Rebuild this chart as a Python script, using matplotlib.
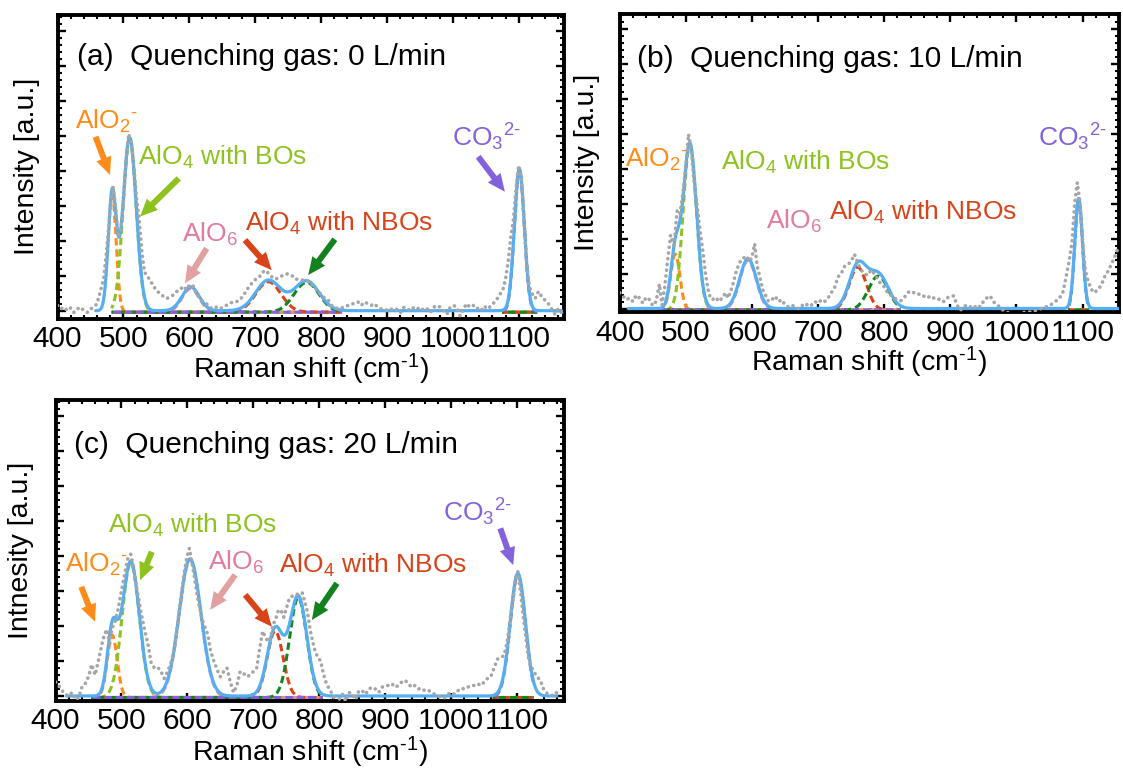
import numpy as np
import matplotlib
matplotlib.use("Agg")
import matplotlib.pyplot as plt
from matplotlib.ticker import MultipleLocator
from matplotlib.transforms import offset_copy

plt.rcParams["font.family"] = ["Liberation Sans", "DejaVu Sans"]
plt.rcParams["mathtext.fontset"] = "custom"
plt.rcParams["mathtext.rm"] = "Liberation Sans"
plt.rcParams["mathtext.it"] = "Liberation Sans:italic"
plt.rcParams["mathtext.bf"] = "Liberation Sans:bold"
plt.rcParams["mathtext.default"] = "regular"

# ------------------------------------------------------------------ data
HY = "\u2010"  # typographic hyphen used in the charge labels
band_names = ["AlO2-", "AlO4 (BOs)", "AlO6", "AlO4 (NBOs) I", "AlO4 (NBOs) II", "CO3 2-"]
band_colors = ["#FF8C1A", "#8DC21F", "#E48AA6", "#D8431A", "#13861F", "#8462DC"]

titles = ["(a)  Quenching gas: 0 L/min",
          "(b)  Quenching gas: 10 L/min",
          "(c)  Quenching gas: 20 L/min"]
ylabels = ["Intensity [a.u.]", "Intensity [a.u.]", "Intnesity [a.u.]"]
xlabel = "Raman shift (cm$^{" + HY + "1}$)"
xticks = [400, 500, 600, 700, 800, 900, 1000, 1100]

lbl_alo2 = "AlO$_2$$^{" + HY + "}$"
lbl_bos = "AlO$_4$ with BOs"
lbl_alo6 = "AlO$_6$"
lbl_nbos = "AlO$_4$ with NBOs"
lbl_co3 = "CO$_3$$^{2" + HY + "}$"

# measured spectra (Raman shift, intensity)
raw_x_a = [400, 405, 410, 415, 420, 425, 430, 435, 440, 445, 450, 455, 460, 465, 470,
           475, 480, 484, 488, 492, 496, 500, 504, 508, 512, 516, 520, 524, 528, 532,
           536, 541, 546, 551, 556, 561, 566, 571, 576, 581, 586, 591, 596, 601, 606,
           611, 616, 621, 626, 631, 636, 641, 646, 651, 656, 661, 666, 671, 676, 681,
           686, 691, 696, 701, 706, 711, 716, 721, 726, 731, 736, 741, 746, 751, 756,
           761, 766, 771, 776, 781, 786, 791, 796, 801, 806, 811, 816, 821, 826, 831,
           836, 841, 846, 851, 856, 861, 866, 871, 876, 881, 886, 891, 896, 901, 906,
           911, 916, 921, 926, 931, 936, 941, 946, 951, 956, 961, 966, 971, 976, 981,
           986, 991, 996, 1001, 1006, 1011, 1016, 1021, 1026, 1031, 1036, 1041, 1046,
           1051, 1056, 1061, 1066, 1071, 1076, 1080, 1084, 1088, 1092, 1096, 1100,
           1104, 1108, 1112, 1116, 1120, 1125, 1130, 1135, 1140, 1145, 1150, 1155,
           1160, 1165]
raw_y_a = [0.15, 0.05, 0.10, 0.00, 0.08, -0.05, 0.05, 0.10, 0.00, -0.05, 0.05, 0.10, 0.20, 0.55, 0.90,
           1.80, 2.90, 3.55, 3.00, 2.10, 2.30, 3.10, 4.30, 5.05, 4.80, 4.10, 3.20, 2.60, 1.70, 1.10,
           1.00, 0.85, 0.70, 0.55, 0.50, 0.40, 0.35, 0.40, 0.45, 0.55, 0.60, 0.70, 0.60, 0.75, 0.70,
           0.50, 0.35, 0.25, 0.20, 0.10, 0.05, 0.10, 0.05, 0.10, 0.15, 0.20, 0.25, 0.25, 0.30, 0.40,
           0.55, 0.70, 0.80, 0.90, 0.95, 1.10, 1.15, 1.05, 0.95, 0.90, 0.95, 1.00, 1.05, 1.05, 1.00,
           0.90, 0.90, 0.88, 0.85, 0.85, 0.75, 0.65, 0.55, 0.45, 0.35, 0.30, 0.15, 0.10, 0.05, 0.08,
           0.10, 0.15, 0.20, 0.20, 0.25, 0.15, 0.25, 0.20, 0.15, 0.20, 0.10, 0.05, 0.05, 0.00, 0.05,
           0.00, 0.05, -0.05, 0.10, 0.05, 0.00, 0.10, 0.05, 0.10, 0.00, 0.05, -0.05, 0.10, 0.15, 0.10,
           0.00, -0.10, 0.10, 0.15, 0.10, -0.15, 0.05, 0.20, 0.10, 0.15, 0.05, 0.10, 0.00,
           0.15, 0.10, 0.20, 0.30, 0.45, 0.60, 0.90, 1.40, 2.10, 2.60, 3.50, 4.15,
           3.80, 2.60, 1.40, 0.70, 0.50, 0.35, 0.55, 0.40, 0.30, 0.20, 0.05, -0.10,
           0.05, -0.05]

raw_x_b = [400, 405, 410, 415, 420, 425, 430, 435, 440, 445, 450, 455, 460, 464, 468,
           472, 477, 482, 487, 491, 495, 500, 504, 508, 512, 517, 522, 526, 530, 535,
           540, 545, 550, 555, 560, 564, 568, 572, 576, 580, 584, 588, 592, 596, 600,
           604, 608, 612, 616, 620, 625, 630, 635, 640, 645, 650, 655, 660, 665, 670,
           675, 680, 685, 690, 695, 700, 705, 710, 715, 720, 725, 730, 735, 740, 745,
           750, 755, 760, 765, 770, 775, 780, 785, 790, 795, 800, 805, 810, 815, 820,
           825, 830, 835, 840, 845, 850, 855, 860, 865, 870, 875, 880, 885, 890, 895,
           900, 905, 910, 915, 920, 925, 930, 935, 940, 945, 950, 955, 960, 965, 970,
           975, 980, 985, 990, 995, 1000, 1005, 1010, 1015, 1020, 1025, 1030, 1035,
           1040, 1045, 1050, 1055, 1060, 1065, 1070, 1075, 1080, 1084, 1088, 1092,
           1096, 1100, 1104, 1108, 1113, 1118, 1123, 1128, 1133, 1138, 1143, 1148,
           1153, 1155]
raw_y_b = [0.45, 0.35, 0.25, 0.30, 0.20, 0.38, 0.30, 0.15, 0.32, 0.25, 0.08, 0.20, 0.70, 0.10, 0.60,
           1.30, 2.10, 1.80, 2.80, 2.70, 3.20, 4.05, 4.98, 4.60, 3.70, 2.95, 2.15, 1.60, 0.95, 0.40,
           0.25, 0.32, 0.20, 0.30, 0.45, 0.30, 0.50, 0.75, 1.05, 1.25, 1.40, 1.45, 1.50, 1.35, 1.45,
           1.85, 1.20, 0.90, 0.55, 0.40, 0.20, 0.25, 0.35, 0.20, 0.25, 0.10, 0.05, 0.10, 0.05, 0.00,
           0.10, 0.05, 0.15, 0.10, 0.20, 0.15, 0.25, 0.20, 0.30, 0.45, 0.60, 0.90, 1.00, 1.20, 1.25,
           1.35, 1.55, 1.30, 1.10, 1.00, 0.95, 1.10, 1.00, 0.85, 0.70, 0.62, 0.45, 0.38, 0.30, 0.25,
           0.22, 0.30, 0.45, 0.50, 0.45, 0.40, 0.42, 0.35, 0.30, 0.36, 0.30, 0.25, 0.28, 0.20, 0.30,
           0.35, 0.36, 0.10, -0.05, 0.05, 0.10, 0.05, 0.00, 0.10, 0.05, 0.20, 0.30, 0.36, 0.20, 0.10,
           0.05, -0.05, -0.10, -0.15, -0.20, -0.18, -0.15, -0.12, -0.10, -0.10, -0.08, -0.05, -0.02,
           0.02, 0.05, 0.08, 0.15, 0.22, 0.30, 0.45, 0.90, 1.40, 1.90, 3.00, 3.60,
           3.00, 1.90, 1.10, 0.80, 0.55, 0.45, 0.55, 0.65, 0.90, 1.05, 1.25, 1.45,
           1.70, 1.80]

raw_x_c = [400, 405, 410, 415, 420, 425, 430, 435, 440, 445, 450, 455, 460, 465, 470,
           474, 478, 482, 486, 490, 494, 498, 502, 506, 510, 514, 518, 522, 526, 530,
           535, 540, 545, 550, 555, 560, 565, 570, 575, 580, 585, 590, 595, 599, 603,
           607, 611, 615, 619, 623, 627, 631, 635, 640, 645, 650, 655, 660, 665, 670,
           675, 680, 685, 690, 695, 700, 705, 710, 714, 718, 722, 726, 730, 734, 738,
           742, 746, 750, 754, 758, 762, 766, 770, 774, 778, 782, 786, 790, 794, 798,
           802, 806, 810, 815, 820, 825, 830, 835, 840, 845, 850, 855, 860, 865, 870,
           875, 880, 885, 890, 895, 900, 905, 910, 915, 920, 925, 930, 935, 940, 945,
           950, 955, 960, 965, 970, 975, 980, 985, 990, 995, 1000, 1005, 1010, 1015,
           1020, 1025, 1030, 1035, 1040, 1045, 1050, 1055, 1060, 1065, 1070, 1075,
           1080, 1085, 1090, 1094, 1098, 1101, 1105, 1109, 1113, 1117, 1121, 1125,
           1130, 1135, 1140, 1145, 1150, 1155, 1160, 1165]
raw_y_c = [0.40, 0.30, 0.15, 0.05, 0.00, 0.10, -0.10, -0.05, 0.25, 0.35, 0.55, 0.90, 0.60, 1.00, 1.45,
           1.75, 1.90, 1.50, 1.95, 2.10, 2.40, 2.80, 3.20, 3.60, 3.95, 4.05, 3.70, 3.20, 2.80, 2.35,
           1.90, 1.50, 0.95, 0.80, 0.82, 0.70, 0.50, 0.70, 0.95, 1.30, 2.05, 2.80, 3.50, 3.95, 4.22,
           3.80, 3.35, 2.85, 2.50, 2.15, 1.95, 1.75, 1.30, 1.00, 0.75, 0.55, 0.70, 0.80, 0.40, 0.10,
           0.30, 0.70, 0.65, 0.55, 0.60, 0.70, 0.80, 1.40, 1.85, 1.70, 1.55, 1.65, 2.05, 2.20, 2.45,
           2.45, 2.25, 2.50, 2.75, 2.85, 2.85, 2.90, 2.95, 2.95, 2.70, 2.40, 1.90, 1.55, 1.25, 1.10,
           1.00, 0.65, 0.40, 0.20, 0.05, -0.20, -0.10, 0.05, -0.15, 0.10, 0.05, -0.10, 0.15, 0.15, 0.05,
           0.20, 0.25, 0.20, 0.10, 0.25, 0.30, 0.30, 0.35, 0.25, 0.30, 0.40, 0.45, 0.35, 0.25, 0.30,
           0.20, 0.22, 0.15, 0.17, 0.10, 0.05, 0.00, -0.05, -0.05, 0.05, 0.10, 0.05, 0.15, 0.22,
           0.20, 0.25, 0.30, 0.30, 0.35, 0.30, 0.40, 0.50, 0.55, 0.80, 1.05, 1.10,
           1.15, 1.55, 2.30, 2.75, 3.40, 3.55, 3.00, 2.30, 1.70, 1.10, 0.85, 0.70,
           0.55, 0.45, 0.20, 0.08, 0.05, 0.00, 0.10, 0.05]

# Gaussian band fits: centre (cm-1), height, standard deviation (cm-1)
center_a = [483, 509.5, 602, 720, 778, 1101]
height_a = [3.35, 4.95, 0.68, 0.87, 0.85, 4.06]
sigma_a = [6, 10, 13, 19, 19, 7.5]

center_b = [484, 506, 594, 760, 791, 1094]
height_b = [1.60, 4.72, 1.42, 1.22, 0.97, 3.15]
sigma_b = [7, 10, 12.5, 13, 15, 5.8]

center_c = [486, 514, 604, 733, 768, 1101]
height_c = [1.78, 3.85, 3.92, 1.90, 2.85, 3.50]
sigma_c = [7.5, 13, 16.5, 12, 13, 11.5]

# Raman-shift windows of the fitted envelope and of the band curves
fit_range_a, fit_range_b, fit_range_c = (458, 1165), (413, 1155), (416, 1160)
band_windows_a = [(482, 832), (1075, 1128)]
band_windows_b = [(457, 825), (1078, 1110)]
band_windows_c = [(454, 805), (1063, 1125)]

# band labels: text, colour index, x (cm-1), y (intensity)
labels_a = [(lbl_alo2, 0, 426.6, 5.21),
            (lbl_bos, 1, 522.0, 4.16),
            (lbl_alo6, 2, 589.0, 1.97),
            (lbl_nbos, 3, 684.5, 2.29),
            (lbl_co3, 5, 998.6, 4.69)]
labels_b = [(lbl_alo2, 0, 408.0, 4.05),
            (lbl_bos, 1, 552.8, 3.96),
            (lbl_alo6, 2, 620.9, 2.29),
            (lbl_nbos, 3, 717.0, 2.53),
            (lbl_co3, 5, 1032.8, 4.62)]
labels_c = [(lbl_alo2, 0, 414.4, 3.55),
            (lbl_bos, 1, 479.7, 4.66),
            (lbl_alo6, 2, 631.9, 3.60),
            (lbl_nbos, 3, 739.6, 3.51),
            (lbl_co3, 5, 987.4, 4.98)]

# pointer arrows: colour, tail (x, y), head (x, y)
arrow_colors = ["#FF8C1A", "#8DC21F", "#E3A0A0", "#D8431A", "#13811E", "#8462DC"]
arrows_a = [(0, 457.7, 4.97, 479.7, 3.88),
            (1, 584.0, 3.78, 525.2, 2.69),
            (2, 626.4, 1.78, 593.5, 0.78),
            (3, 684.5, 2.02, 725.0, 1.16),
            (4, 821.0, 2.04, 780.6, 1.02),
            (5, 1038.5, 4.40, 1079.0, 3.40)]
arrows_b = []
arrows_c = [(0, 439.0, 3.12, 459.9, 2.12),
            (1, 546.0, 4.12, 528.2, 3.31),
            (2, 672.4, 3.46, 634.4, 2.46),
            (3, 687.6, 2.89, 728.0, 1.98),
            (4, 826.7, 3.22, 788.7, 2.17),
            (5, 1074.4, 4.79, 1094.0, 3.74)]

xlim_a, xlim_b, xlim_c = (400, 1168), (400, 1155), (400, 1171)
ylim_a, ylim_b, ylim_c = (-0.223, 8.449), (-0.10, 8.43), (-0.143, 8.457)

# ------------------------------------------------------------------ figure
FIG_W, FIG_H = 1123, 769
fig = plt.figure(figsize=(FIG_W / 100, FIG_H / 100), dpi=100)


def add_axes_px(left, top, right, bottom):
    return fig.add_axes([left / FIG_W, 1 - bottom / FIG_H,
                         (right - left) / FIG_W, (bottom - top) / FIG_H])


def gaussian(x, h, c, s):
    return h * np.exp(-0.5 * ((x - c) / s) ** 2)


FIT_BLUE = "#55AEF2"
RAW_GRAY = "#A6A6A6"
DASH_OFFSETS = [0.0, 1.2, 2.4, 0.6, 1.8, 3.0]


def draw_panel(ax, raw_x, raw_y, centers, heights, sigmas, fit_range, windows,
               labels, arrows, xlim, ylim, title, ylabel, title_pos,
               ylabel_x, xlabel_y, tick_pad):
    # individual bands (dashed), drawn a hair below the envelope
    shifted = offset_copy(ax.transData, fig=fig, x=0, y=-1.5, units="dots")
    xb = np.concatenate([np.linspace(windows[0][0], windows[0][1], 600), [np.nan],
                         np.linspace(windows[1][0], windows[1][1], 200)])
    for i, (c, h, s) in enumerate(zip(centers, heights, sigmas)):
        ax.plot(xb, gaussian(xb, h, c, s), color=band_colors[i], lw=2.2,
                linestyle=(DASH_OFFSETS[i], (2.4, 1.3)), transform=shifted,
                zorder=2)

    # fitted envelope
    xf = np.linspace(fit_range[0], fit_range[1], 2000)
    yf = np.zeros_like(xf)
    for c, h, s in zip(centers, heights, sigmas):
        yf += gaussian(xf, h, c, s)
    ax.plot(xf, yf, color=FIT_BLUE, lw=2.3, solid_capstyle="round", zorder=3)

    # measured spectrum
    ax.plot(raw_x, raw_y, color=RAW_GRAY, lw=2.6, linestyle=(0, (0.05, 1.55)),
            dash_capstyle="round", zorder=4)

    for text, ci, x, y in labels:
        ax.text(x, y, text, color=band_colors[ci] if ci != 2 else "#E07C9C",
                fontsize=19, ha="left", va="baseline", zorder=6)
    for ci, tx, ty, hx, hy in arrows:
        ax.annotate("", xy=(hx, hy), xytext=(tx, ty),
                    arrowprops=dict(arrowstyle="simple,head_length=1.05,head_width=0.95,tail_width=0.36",
                                    mutation_scale=12, color=arrow_colors[ci], lw=0,
                                    shrinkA=0, shrinkB=0),
                    zorder=6)

    ax.text(title_pos[0], title_pos[1], title, transform=ax.transAxes,
            fontsize=21.5, ha="left", va="baseline")

    ax.set_xlim(*xlim)
    ax.set_ylim(*ylim)
    ax.set_xticks(xticks)
    ax.xaxis.set_minor_locator(MultipleLocator(20))
    ax.yaxis.set_major_locator(MultipleLocator(1.0))
    ax.yaxis.set_minor_locator(MultipleLocator(0.2))
    ax.tick_params(which="both", direction="in", top=True, right=True,
                   labelleft=False)
    ax.tick_params(which="major", length=5.5, width=1.7, labelsize=21.5, pad=tick_pad)
    ax.tick_params(which="minor", length=3.0, width=1.5)
    for sp in ax.spines.values():
        sp.set_linewidth(2.8)

    ax.set_xlabel(xlabel, fontsize=20.5, va="center")
    ax.xaxis.set_label_coords(0.5, xlabel_y)
    ax.set_ylabel(ylabel, fontsize=20.5, va="center")
    ax.yaxis.set_label_coords(ylabel_x, 0.5)


ax_a = add_axes_px(57.5, 15, 563.5, 318.5)
ax_b = add_axes_px(619.7, 13.5, 1119, 312)
ax_c = add_axes_px(55.5, 400, 564, 701)

draw_panel(ax_a, raw_x_a, raw_y_a, center_a, height_a, sigma_a, fit_range_a,
           band_windows_a, labels_a, arrows_a, xlim_a, ylim_a, titles[0],
           ylabels[0], (0.0385, 0.835), -0.060, -0.168, 5.0)
draw_panel(ax_b, raw_x_b, raw_y_b, center_b, height_b, sigma_b, fit_range_b,
           band_windows_b, labels_b, arrows_b, xlim_b, ylim_b, titles[1],
           ylabels[1], (0.034, 0.82), -0.0655, -0.169, 5.0)
draw_panel(ax_c, raw_x_c, raw_y_c, center_c, height_c, sigma_c, fit_range_c,
           band_windows_c, labels_c, arrows_c, xlim_c, ylim_c, titles[2],
           ylabels[2], (0.036, 0.824), -0.068, -0.170, 4.0)

fig.savefig("out.png", dpi=100)
